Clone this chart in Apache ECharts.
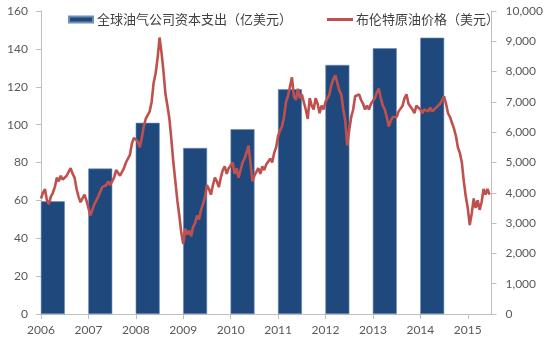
<!DOCTYPE html>
<html>
<head>
<meta charset="utf-8">
<script src="https://cdn.jsdelivr.net/npm/echarts@6/dist/echarts.min.js"></script>
<style>
  html, body { margin: 0; padding: 0; background: #fff; }
  #chart { width: 546px; height: 340px; }
</style>
</head>
<body>
<div id="chart"></div>
<script>
// Global oil & gas capex (100M USD, right axis) vs Brent crude price (USD, left axis)
const capexYears = [2006, 2007, 2008, 2009, 2010, 2011, 2012, 2013, 2014];
const capexValues = [3720, 4800, 6310, 5480, 6100, 7420, 8220, 8770, 9120];

// Brent price, two readings per month, starting each January
const brent2006 = [61, 64, 66, 60, 58, 62, 64, 67, 72, 70, 73, 71, 70, 73, 75, 77, 74, 72, 66, 62, 59, 60, 63, 60];
const brent2007 = [56, 52, 55, 58, 60, 62, 63, 67, 66, 68, 70, 68, 70, 72, 76, 77, 73, 72, 77, 80, 79, 84, 90, 93];
const brent2008 = [94, 91, 88, 93, 99, 103, 102, 107, 112, 122, 127, 135, 146, 138, 128, 116, 110, 103, 92, 80, 70, 60, 52, 43];
const brent2009 = [37, 45, 42, 44, 41, 46, 48, 52, 50, 55, 58, 62, 68, 66, 63, 68, 72, 70, 67, 72, 76, 78, 74, 77];
const brent2010 = [78, 80, 74, 77, 72, 76, 80, 82, 85, 89, 80, 70, 73, 75, 77, 74, 78, 76, 79, 78, 82, 80, 85, 88];
const brent2011 = [94, 97, 99, 104, 112, 115, 120, 125, 115, 113, 119, 114, 116, 117, 108, 103, 114, 110, 108, 114, 111, 106, 110, 108];
const brent2012 = [112, 111, 116, 121, 124, 126, 122, 118, 116, 108, 102, 89, 97, 104, 108, 115, 114, 116, 113, 111, 108, 110, 108, 111];
const brent2013 = [112, 114, 117, 119, 114, 110, 108, 104, 99, 102, 104, 103, 104, 107, 108, 110, 114, 116, 111, 110, 108, 106, 110, 111];
const brent2014 = [108, 106, 108, 109, 107, 109, 107, 108, 109, 110, 111, 113, 115, 111, 106, 104, 101, 98, 94, 88, 85, 80, 70, 62];
const brent2015 = [56, 47, 53, 61, 56, 60, 55, 59, 66, 63, 66, 63];

const brentByYear = [
  [2006, brent2006], [2007, brent2007], [2008, brent2008], [2009, brent2009],
  [2010, brent2010], [2011, brent2011], [2012, brent2012], [2013, brent2013],
  [2014, brent2014], [2015, brent2015]
];

const yearTicks = [2006, 2007, 2008, 2009, 2010, 2011, 2012, 2013, 2014, 2015];
const priceTicks = [0, 20, 40, 60, 80, 100, 120, 140, 160];
const capexTicks = [0, 1000, 2000, 3000, 4000, 5000, 6000, 7000, 8000, 9000, 10000];

const brentPoints = [];
brentByYear.forEach(([yr, vals]) => {
  vals.forEach((v, i) => brentPoints.push([yr + i / 24, v]));
});

// each capex bar occupies the first half of its year
const capexPoints = capexYears.map((y, i) => [y + 0.25, capexValues[i]]);

const labelColor = '#595959';
const axisGray = '#BFBFBF';
const numFont = 'Lato, "Liberation Sans", sans-serif';

const chart = echarts.init(document.getElementById('chart'), null, { renderer: 'canvas' });
chart.setOption({
  animation: false,
  backgroundColor: '#ffffff',
  grid: { left: 41, right: 50, top: 11, bottom: 26, containLabel: false },
  legend: [
    {
      data: ['全球油气公司资本支出（亿美元）'],
      left: 63, top: 8,
      icon: 'rect', itemWidth: 24, itemHeight: 6, itemGap: 4,
      textStyle: { color: '#404040', fontSize: 13, fontFamily: '"Noto Sans CJK SC", sans-serif', padding: [0, 0, 0, -1] }
    },
    {
      data: ['布伦特原油价格（美元）'],
      left: 322, top: 8,
      icon: 'rect', itemWidth: 26, itemHeight: 3,
      textStyle: { color: '#404040', fontSize: 13, fontFamily: '"Noto Sans CJK SC", sans-serif', padding: [0, 0, 0, -2] }
    }
  ],
  xAxis: {
    type: 'value',
    min: 2006, max: 2015.5, interval: 1,
    splitLine: { show: false },
    axisLine: { show: true, lineStyle: { color: axisGray, width: 1 } },
    axisTick: { show: true, length: 5, lineStyle: { color: axisGray } },
    axisLabel: {
      color: labelColor, fontSize: 12, fontFamily: numFont, margin: 10,
      showMaxLabel: false,
      formatter: v => (yearTicks.includes(v) ? String(v) : '')
    }
  },
  yAxis: [
    {
      type: 'value', position: 'left',
      min: priceTicks[0], max: priceTicks[priceTicks.length - 1], interval: 20,
      splitLine: { show: false },
      axisLine: { show: true, lineStyle: { color: axisGray } },
      axisTick: { show: true, length: 5, lineStyle: { color: axisGray } },
      axisLabel: { color: labelColor, fontSize: 12, fontFamily: numFont, margin: 13 }
    },
    {
      type: 'value', position: 'right',
      min: capexTicks[0], max: capexTicks[capexTicks.length - 1], interval: 1000,
      splitLine: { show: false },
      axisLine: { show: true, lineStyle: { color: axisGray } },
      axisTick: { show: true, length: 5, lineStyle: { color: axisGray } },
      axisLabel: {
        color: labelColor, fontSize: 12, fontFamily: numFont, margin: 14,
        formatter: v => v.toLocaleString('en-US')
      }
    }
  ],
  series: [
    {
      name: '全球油气公司资本支出（亿美元）',
      type: 'bar',
      yAxisIndex: 1,
      barWidth: 24,
      data: capexPoints,
      itemStyle: { color: '#1F497D', borderColor: '#6F8DB5', borderWidth: 0.6 }
    },
    {
      name: '布伦特原油价格（美元）',
      type: 'line',
      yAxisIndex: 0,
      data: brentPoints,
      showSymbol: false,
      symbol: 'none',
      lineStyle: { color: '#C0504D', width: 2.6 },
      itemStyle: { color: '#C0504D' },
      z: 3
    }
  ]
});
</script>
</body>
</html>
